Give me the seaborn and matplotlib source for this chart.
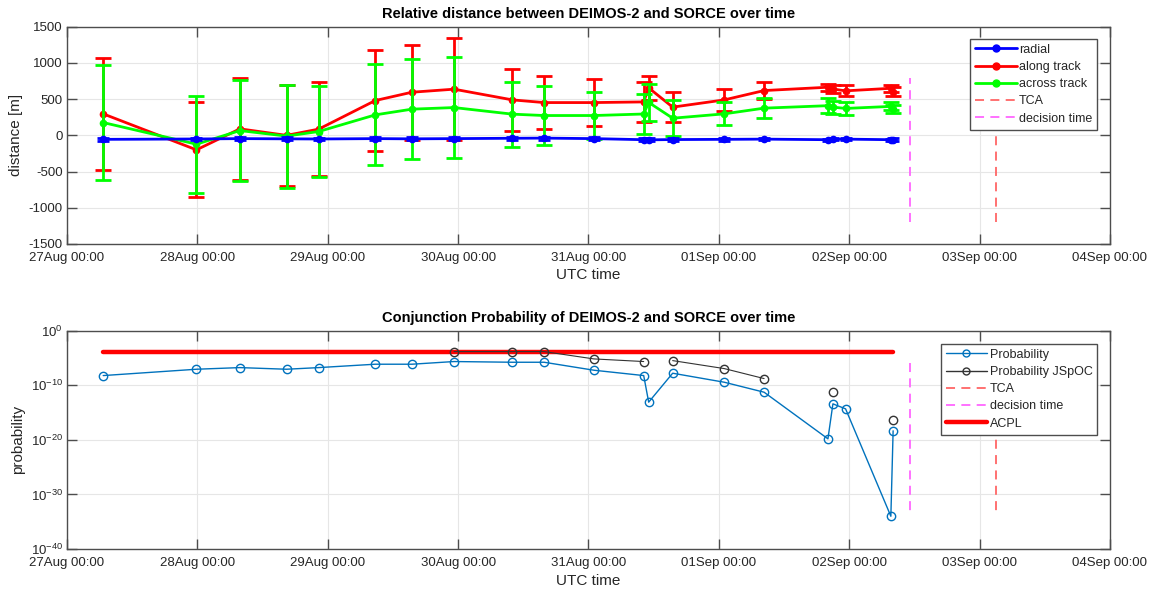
import numpy as np
import pandas as pd
import matplotlib
matplotlib.use("Agg")
import matplotlib.pyplot as plt
import matplotlib.dates as mdates
from matplotlib.lines import Line2D
from matplotlib.ticker import FuncFormatter, NullLocator, FixedLocator
import seaborn as sns

# ---------------- data ----------------
times = ["2019-08-27 06:40", "2019-08-27 23:50", "2019-08-28 07:50", "2019-08-28 16:25",
         "2019-08-28 22:20", "2019-08-29 08:45", "2019-08-29 15:30", "2019-08-29 23:15",
         "2019-08-30 10:00", "2019-08-30 15:50", "2019-08-31 01:00", "2019-08-31 10:10",
         "2019-08-31 11:05", "2019-08-31 15:30", "2019-09-01 01:00", "2019-09-01 08:20",
         "2019-09-01 20:05", "2019-09-01 21:00", "2019-09-01 23:20", "2019-09-02 07:40",
         "2019-09-02 08:05"]

radial = [-55, -50, -45, -48, -50, -45, -48, -45, -40, -38, -45, -60,
          -62, -58, -55, -52, -60, -55, -52, -60, -58]
radial_err = [20, 20, 20, 20, 20, 20, 20, 20, 20, 20, 20, 20,
              20, 20, 18, 18, 15, 15, 15, 15, 15]
along = [297, -200, 90, 0, 86, 481, 596, 638, 490, 453, 453, 462,
         656, 390, 490, 619, 665, 640, 615, 650, 605]
along_err = [770, 658, 700, 700, 648, 702, 654, 704, 426, 361, 329, 281,
             166, 212, 150, 122, 50, 60, 75, 45, 60]
across = [177, -122, 66, -10, 53, 283, 362, 384, 293, 274, 274, 295,
          455, 237, 297, 376, 410, 390, 372, 400, 365]
across_err = [800, 668, 698, 712, 635, 697, 694, 698, 449, 414, 322, 275,
              255, 250, 160, 138, 100, 90, 92, 55, 55]

log_prob = [-8.23, -7.07, -6.77, -7.07, -6.77, -6.15, -6.15, -5.66, -5.79, -5.79,
            -7.25, -8.23, -13.1, -7.8, -9.45, -11.28, -19.82, -13.41, -14.33,
            -34.0, -18.35]
log_prob_jspoc = [np.nan, np.nan, np.nan, np.nan, np.nan, np.nan, np.nan, -3.84, -3.84,
                  -3.84, -5.18, -5.66, np.nan, -5.49, -6.95, -8.78, np.nan, -11.28,
                  np.nan, np.nan, -16.34]

acpl = 1e-4
tca_time = "2019-09-03 03:05"
decision_time = "2019-09-02 11:10"
dist_vline_range = [-1200, 790]
prob_vline_range = [1e-6, 1e-34]
xlim = ["2019-08-27 00:00", "2019-09-04 00:00"]

# ---------------- styling ----------------
sns.set_theme(style="whitegrid")
plt.rcParams["font.family"] = ["Liberation Sans", "DejaVu Sans"]
plt.rcParams["mathtext.fontset"] = "custom"
plt.rcParams["mathtext.rm"] = "Liberation Sans"
plt.rcParams["mathtext.it"] = "Liberation Sans"
plt.rcParams["axes.unicode_minus"] = False

AX_COL = "#4d4d4d"
TXT_COL = "#262626"
GRID_COL = "#e6e6e6"
C_RAD = "#0000ff"
C_ALONG = "#ff0000"
C_ACROSS = "#00ff00"
C_TCA = "#ff6666"
C_DEC = "#ff66ff"
C_PROB = "#0072bd"
C_JSPOC = "#333333"
DASH = (0, (5, 3.5))

t = pd.to_datetime(pd.Series(times))
t_tca = pd.Timestamp(tca_time)
t_dec = pd.Timestamp(decision_time)
xl = [pd.Timestamp(v) for v in xlim]

fig = plt.figure(figsize=(11.55, 5.95), dpi=100)
ax1 = fig.add_axes([0.058, 0.590, 0.903, 0.365])
ax2 = fig.add_axes([0.058, 0.0773, 0.903, 0.367])


def style_axes(ax):
    ax.set_facecolor("white")
    for s in ax.spines.values():
        s.set_color(AX_COL)
        s.set_linewidth(1.0)
    ax.grid(True, color=GRID_COL, linewidth=0.8)
    ax.tick_params(direction="in", length=7, width=1, color=AX_COL,
                   top=True, right=True, bottom=True, left=True,
                   labelsize=9.5, labelcolor=TXT_COL)
    ax.tick_params(axis="x", pad=6)
    ax.tick_params(axis="y", pad=3)
    ax.set_xlim(xl)
    ax.xaxis.set_major_locator(mdates.DayLocator())
    ax.set_xlabel("UTC time", fontsize=11, color=TXT_COL, labelpad=3)


def vline(ax, when, yrange, color):
    d = pd.DataFrame({"time": [when, when], "y": yrange})
    sns.lineplot(data=d, x="time", y="y", ax=ax, color=color, linestyle=DASH,
                 linewidth=1.3, sort=False, estimator=None, errorbar=None)


# ---------------- top panel ----------------
style_axes(ax1)
df = pd.DataFrame({"time": t, "radial": radial, "along": along, "across": across})
eb_kw = dict(capsize=5.5, capthick=2, elinewidth=2, linewidth=2, marker=".", markersize=9)
ax1.errorbar(df["time"], df["along"], yerr=along_err, color=C_ALONG, zorder=2, **eb_kw)
ax1.errorbar(df["time"], df["across"], yerr=across_err, color=C_ACROSS, zorder=3, **eb_kw)
ax1.errorbar(df["time"], df["radial"], yerr=radial_err, color=C_RAD, zorder=4,
             capsize=4, capthick=2, elinewidth=2, linewidth=2, marker=".", markersize=9)
vline(ax1, t_tca, dist_vline_range, C_TCA)
vline(ax1, t_dec, dist_vline_range, C_DEC)
ax1.set_ylim(-1500, 1500)
ax1.set_yticks(np.arange(-1500, 1501, 500))
ax1.set_ylabel("distance [m]", fontsize=11, color=TXT_COL, labelpad=4)
ax1.set_title("Relative distance between DEIMOS-2 and SORCE over time",
              fontsize=10.5, fontweight="bold", color="black", pad=6)
ax1.xaxis.set_major_formatter(mdates.DateFormatter("%d%b %H:%M"))

leg_kw = dict(loc="upper right", fontsize=9, frameon=True, fancybox=False, framealpha=1,
              edgecolor=AX_COL, handlelength=3.3, handletextpad=0.2, borderpad=0.4,
              labelspacing=0.42, borderaxespad=0)

h1 = [Line2D([], [], color=C_RAD, lw=2, marker="o", markersize=5),
      Line2D([], [], color=C_ALONG, lw=2, marker="o", markersize=5),
      Line2D([], [], color=C_ACROSS, lw=2, marker="o", markersize=5),
      Line2D([], [], color=C_TCA, lw=1.3, ls=DASH),
      Line2D([], [], color=C_DEC, lw=1.3, ls=DASH)]
leg1 = ax1.legend(h1, ["radial", "along track", "across track", "TCA", "decision time"],
                  bbox_to_anchor=(0.988, 0.945), **leg_kw)
leg1.get_frame().set_linewidth(1.0)

# ---------------- bottom panel ----------------
style_axes(ax2)
ax2.set_yscale("log")
pdf = pd.DataFrame({"time": t, "prob": 10.0 ** np.array(log_prob),
                    "jspoc": 10.0 ** np.array(log_prob_jspoc)})
sns.lineplot(data=pdf, x="time", y="prob", ax=ax2, color=C_PROB, linewidth=1,
             marker="o", markersize=6, markerfacecolor="none", markeredgecolor=C_PROB,
             markeredgewidth=1, zorder=3, estimator=None, errorbar=None)
ax2.plot(pdf["time"], pdf["jspoc"], color=C_JSPOC, linewidth=0.8, marker="o", markersize=6,
         markerfacecolor="none", markeredgecolor=C_JSPOC, markeredgewidth=1, zorder=3)
vline(ax2, t_tca, prob_vline_range, C_TCA)
vline(ax2, t_dec, prob_vline_range, C_DEC)
adf = pd.DataFrame({"time": [t.iloc[0], t.iloc[-1]], "y": [acpl, acpl]})
sns.lineplot(data=adf, x="time", y="y", ax=ax2, color="#ff0000", linewidth=3.2, zorder=2,
             estimator=None, errorbar=None)
ax2.set_ylim(1e-40, 1)
ax2.yaxis.set_major_locator(FixedLocator([1e-40, 1e-30, 1e-20, 1e-10, 1]))
ax2.yaxis.set_minor_locator(NullLocator())
ax2.yaxis.set_major_formatter(FuncFormatter(lambda v, p: r"$10^{%d}$" % int(round(np.log10(v)))))
ax2.set_ylabel("probability", fontsize=11, color=TXT_COL, labelpad=4)
ax2.set_title("Conjunction Probability of DEIMOS-2 and SORCE over time",
              fontsize=10.5, fontweight="bold", color="black", pad=6)
ax2.xaxis.set_major_formatter(mdates.DateFormatter("%d%b %H:%M"))

h2 = [Line2D([], [], color=C_PROB, lw=1, marker="o", markersize=5, markerfacecolor="none"),
      Line2D([], [], color=C_JSPOC, lw=1, marker="o", markersize=5, markerfacecolor="none"),
      Line2D([], [], color=C_TCA, lw=1.3, ls=DASH),
      Line2D([], [], color=C_DEC, lw=1.3, ls=DASH),
      Line2D([], [], color="#ff0000", lw=3.2)]
leg2 = ax2.legend(h2, ["Probability", "Probability JSpOC", "TCA", "decision time", "ACPL"],
                  bbox_to_anchor=(0.988, 0.94), **leg_kw)
leg2.get_frame().set_linewidth(1.0)

fig.savefig("out.png", dpi=100, facecolor="white")
